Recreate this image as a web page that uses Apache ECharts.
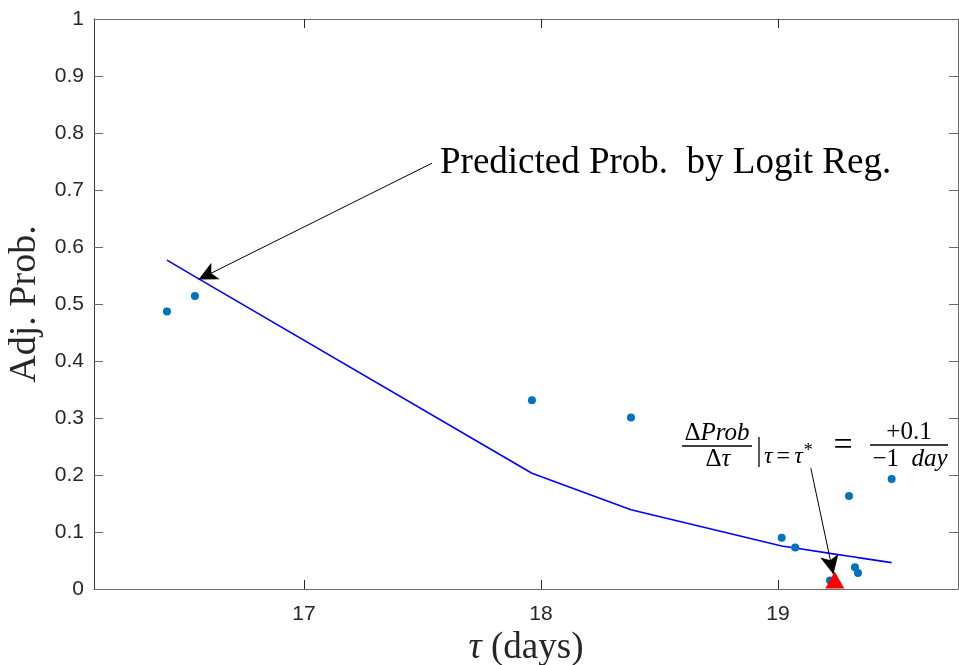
<!DOCTYPE html>
<html>
<head>
<meta charset="utf-8">
<script src="https://cdn.jsdelivr.net/npm/echarts@6/dist/echarts.min.js"></script>
<style>html,body{margin:0;padding:0;background:#fff;}#c{width:959px;height:665px;}</style>
</head>
<body>
<div id="c"></div>
<script>
// ---- data ----
const tauObs   = [16.422, 16.540, 17.962, 18.380, 19.016, 19.073, 19.220, 19.300, 19.325, 19.338, 19.480];
const probObs  = [0.487, 0.514, 0.331, 0.301, 0.090, 0.073, 0.015, 0.163, 0.038, 0.028, 0.193];
const probPred = [0.577, 0.548, 0.203, 0.139, 0.0755, 0.072, 0.0625, 0.0576, 0.056, 0.055, 0.0463];
const tauStar  = [19.240];
const probStar = [0.016];
const xTicks = [17, 18, 19];
const xMin = 16.114, xMax = 19.76;
const yMin = 0, yMax = 1, yStep = 0.1;
// annotation arrows (data coordinates: [from, to])
const arrow1 = [[17.54, 0.747], [16.555, 0.543]];
const arrow2 = [[19.139, 0.212], [19.234, 0.026]];

const axisCol = '#262626';
const serif = '"Liberation Serif", "DejaVu Serif", serif';
const sans = '"Liberation Sans", Arial, sans-serif';

const chart = echarts.init(document.getElementById('c'), null, {renderer: 'canvas'});
const xBase = {
  type: 'value', min: xMin, max: xMax,
  splitLine: {show: false},
  axisLine: {show: true, onZero: false, lineStyle: {color: '#6a6a6a', width: 1}},
  axisTick: {show: true, inside: true, length: 9, customValues: xTicks, lineStyle: {color: axisCol}},
};
const yBase = {
  type: 'value', min: yMin, max: yMax, interval: yStep,
  splitLine: {show: false},
  axisLine: {show: true, onZero: false, lineStyle: {color: '#3a3a3a', width: 1}},
  axisTick: {show: true, inside: true, length: 9, lineStyle: {color: '#6a6a6a'}},
};
const lineData = tauObs.map((t, i) => [t, probPred[i]]);
const obsData = tauObs.map((t, i) => [t, probObs[i]]);
const starData = tauStar.map((t, i) => [t, probStar[i]]);

chart.setOption({
  animation: false,
  backgroundColor: '#fff',
  grid: {left: 94, right: 1, top: 19, bottom: 76, containLabel: false, outerBoundsMode: 'none'},
  xAxis: [
    Object.assign({}, xBase, {
      position: 'bottom',
      axisLabel: {show: true, customValues: xTicks, margin: 15, color: axisCol, fontSize: 21, fontFamily: sans},
      name: '{i|τ} (days)', nameLocation: 'middle', nameGap: 38,
      nameTextStyle: {fontFamily: serif, fontSize: 37, color: axisCol,
        rich: {i: {fontFamily: serif, fontStyle: 'italic', fontSize: 37, color: axisCol}}}
    }),
    Object.assign({}, xBase, {position: 'top', axisLabel: {show: false}})
  ],
  yAxis: [
    Object.assign({}, yBase, {
      position: 'left',
      axisLabel: {show: true, margin: 10, color: axisCol, fontSize: 21, fontFamily: sans},
      name: 'Adj. Prob.', nameLocation: 'middle', nameGap: 48, nameRotate: 90,
      nameTextStyle: {fontFamily: serif, fontSize: 38, color: axisCol}
    }),
    Object.assign({}, yBase, {position: 'right', axisLabel: {show: false},
      axisLine: {show: true, onZero: false, lineStyle: {color: '#6a6a6a', width: 1}}})
  ],
  series: [
    {
      name: 'pred', type: 'line', data: lineData, showSymbol: false, symbol: 'none',
      lineStyle: {color: '#0000ff', width: 1.6}, z: 3,
      markLine: {
        silent: true, animation: false,
        symbol: ['none', 'arrow'], symbolSize: [14, 19],
        label: {show: false},
        lineStyle: {color: '#000', width: 1, type: 'solid'},
        emphasis: {disabled: true},
        data: [
          [{coord: arrow1[0]}, {coord: arrow1[1]}],
          [{coord: arrow2[0]}, {coord: arrow2[1]}]
        ]
      }
    },
    {
      name: 'obs', type: 'scatter', data: obsData, symbol: 'circle', symbolSize: 8,
      itemStyle: {color: '#0072bd', opacity: 1}, z: 4
    },
    {
      name: 'star', type: 'scatter', data: starData, symbol: 'triangle', symbolSize: [19, 17],
      itemStyle: {color: '#ff0000', opacity: 1}, z: 5
    }
  ],
  graphic: [
    {type: 'text', left: 440, top: 145, z: 10,
      style: {text: 'Predicted Prob.  by Logit Reg.', font: '37px ' + serif, fill: '#000'}},
    // formula: dProb/dtau |_{tau=tau*} = +0.1 / (-1 day)
    {type: 'text', x: 717, y: 433, z: 10,
      style: {text: '{n|Δ}{i|Prob}', align: 'center', verticalAlign: 'middle',
        rich: {n: {fontFamily: serif, fontSize: 25, fill: '#000'}, i: {fontFamily: serif, fontStyle: 'italic', fontSize: 25, fill: '#000'}}}},
    {type: 'line', z: 10, shape: {x1: 682, y1: 446, x2: 752, y2: 446}, style: {stroke: '#000', lineWidth: 1.4}},
    {type: 'text', x: 718, y: 459, z: 10,
      style: {text: '{n|Δ}{i|τ}', align: 'center', verticalAlign: 'middle',
        rich: {n: {fontFamily: serif, fontSize: 25, fill: '#000'}, i: {fontFamily: serif, fontStyle: 'italic', fontSize: 25, fill: '#000'}}}},
    {type: 'line', z: 10, shape: {x1: 759, y1: 437, x2: 759, y2: 467}, style: {stroke: '#000', lineWidth: 1.3}},
    {type: 'text', x: 764, y: 457, z: 10,
      style: {text: '{i|τ}{n|=}{i|τ}{s|*}', align: 'left', verticalAlign: 'middle',
        rich: {n: {fontFamily: serif, fontSize: 24, fill: '#000', padding: [0, 4, 0, 4]}, i: {fontFamily: serif, fontStyle: 'italic', fontSize: 24, fill: '#000'},
          s: {fontFamily: serif, fontSize: 18, fill: '#000', padding: [0, 0, 12, 1]}}}},
    {type: 'text', x: 843, y: 446, z: 10,
      style: {text: '=', align: 'center', verticalAlign: 'middle', font: '34px ' + serif, fill: '#000'}},
    {type: 'line', z: 10, shape: {x1: 870, y1: 445, x2: 948, y2: 445}, style: {stroke: '#000', lineWidth: 1.4}},
    {type: 'text', x: 909, y: 432, z: 10,
      style: {text: '+0.1', align: 'center', verticalAlign: 'middle', font: '25px ' + serif, fill: '#000'}},
    {type: 'text', x: 910, y: 459, z: 10,
      style: {text: '{n|−1  }{i|day}', align: 'center', verticalAlign: 'middle',
        rich: {n: {fontFamily: serif, fontSize: 25, fill: '#000'}, i: {fontFamily: serif, fontStyle: 'italic', fontSize: 25, fill: '#000'}}}}
  ]
});
</script>
</body>
</html>
